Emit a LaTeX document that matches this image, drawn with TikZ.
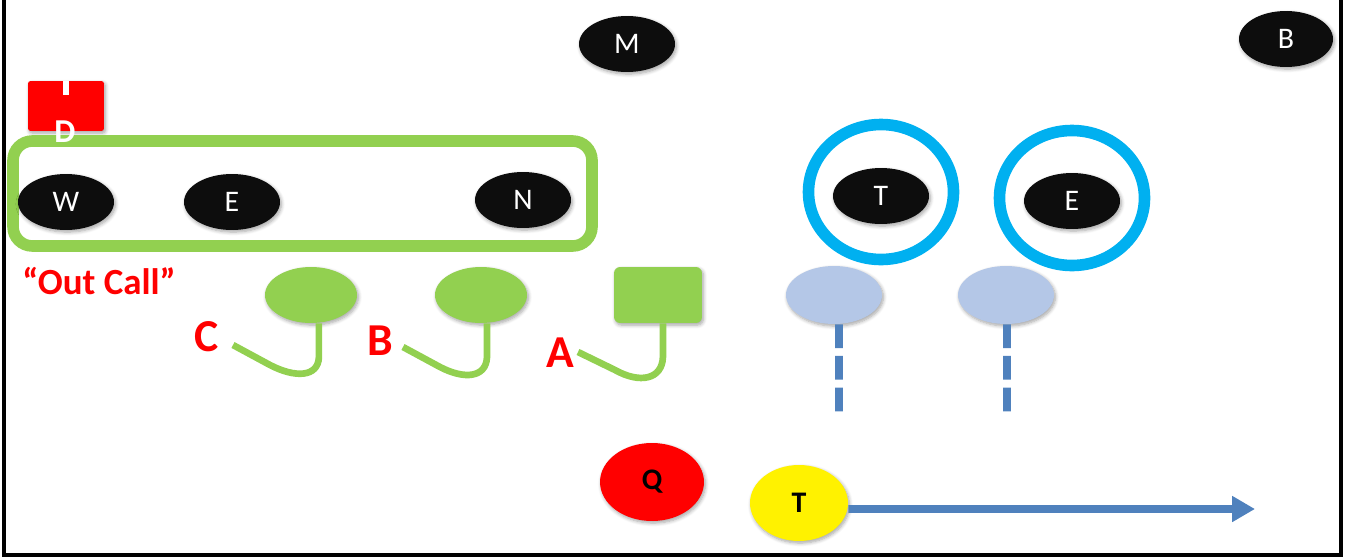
\documentclass[tikz,border=0pt]{standalone}
\usepackage{fontspec}
\setmainfont{Carlito}
\usetikzlibrary{shapes.geometric,arrows.meta,shadows.blur}

\definecolor{padgreen}{HTML}{92D050}
\definecolor{ringblue}{HTML}{00B0F0}
\definecolor{paleblue}{HTML}{B4C7E7}
\definecolor{routeblue}{HTML}{4F81BD}
\definecolor{nearblack}{HTML}{0D0D0D}

\tikzset{
  soft/.style={blur shadow={shadow blur steps=6, shadow xshift=0.8pt, shadow yshift=-1.2pt, shadow opacity=35, shadow blur radius=2pt}},
  player/.style={ellipse, fill=nearblack, text=white, minimum width=1.92cm, minimum height=1.12cm, inner sep=0pt, font=\fontsize{17}{17}\selectfont, soft},
  ring/.style={draw=ringblue, line width=6.6pt},
  stance/.style={ellipse, fill=padgreen, minimum width=1.84cm, minimum height=1.12cm, inner sep=0pt, soft},
  stancebox/.style={rectangle, rounded corners=3.5pt, fill=padgreen, minimum width=1.76cm, minimum height=1.12cm, inner sep=0pt, soft},
  tail/.style={draw=padgreen, line width=3.8pt},
  gaplabel/.style={text=red, font=\bfseries\fontsize{26}{26}\selectfont, inner sep=0pt},
  rusher/.style={ellipse, fill=paleblue, minimum width=1.92cm, minimum height=1.16cm, inner sep=0pt, soft},
  lane/.style={draw=routeblue, line width=4.4pt, dash pattern=on 13.5pt off 4.5pt},
  frameline/.style={line width=2.2pt, draw=black}
}

\begin{document}
\begin{tikzpicture}[x=0.02cm, y=-0.02cm]
\useasboundingbox (0,0) rectangle (1349,558);

% open-top frame
\draw[frameline] (4,0) -- (4,555) -- (1341,555) -- (1341,0);

% deep players
\node[player] (m) at (627,44) {M};
\node[player, minimum width=1.88cm] (b) at (1286,39) {B};

% red marker
\node[rectangle, rounded corners=1.5pt, fill=red, minimum width=1.52cm, minimum height=1cm, inner sep=0pt, soft] (dmark) at (66,106) {};
\fill[white] (63,81) rectangle (69,95);

% grouped front
\draw[draw=padgreen, line width=6.6pt, rounded corners=11pt] (13,141) rectangle (592,246);
\node[player] (w) at (66,202) {W};
\node[player] (e1) at (232,202) {E};
\node[player] (n) at (523,200) {N};

% marker label, drawn over the box edge
\node[text=white, font=\bfseries\fontsize{19}{19}\selectfont, inner sep=0pt] (dlab) at (65,132) {D};

% circled players
\node[player] (t1) at (881,196) {T};
\node[player] (e2) at (1072,201) {E};
\draw[ring] (881,192) ellipse [x radius=72.5, y radius=67.5];
\draw[ring] (1072,198) ellipse [x radius=72.5, y radius=67.5];

% call label
\node[text=red, font=\bfseries\fontsize{21}{21}\selectfont, inner sep=0pt] (call) at (99,281) {“Out Call”};

% line stances with tails
\node[stance] (sc) at (311,295) {};
\node[stance] (sb) at (481,295) {};
\node[stancebox] (sa) at (658,295) {};

\coordinate (tc) at (233,345);
\coordinate (tb) at (403,347);
\coordinate (ta) at (578,352);

\draw[tail] ([xshift=4.5pt]sc.south) -- ++(0,34) .. controls +(-1,20) and (295,378) .. (270,365) -- (tc);
\draw[tail] ([xshift=3.4pt]sb.south) -- ++(0,34) .. controls +(-1,20) and (465,380) .. (440,367) -- (tb);
\draw[tail] ([xshift=2.8pt]sa.south) -- ++(0,34) .. controls +(-1,22) and (640,384) .. (615,370) -- (ta);

\node[gaplabel] (lc) at (207,337) {C};
\node[gaplabel] (lb) at (380,341) {B};
\node[gaplabel] (la) at (560,353) {A};

% pale rushers with dashed lanes
\node[rusher] (r1) at (834,295) {};
\node[rusher] (r2) at (1006,295) {};
\coordinate (d1) at (839,412);
\coordinate (d2) at (1007,412);
\draw[lane] ([xshift=2.8pt]r1.south) -- (d1);
\draw[lane] ([xshift=0.6pt]r2.south) -- (d2);

% backfield
\node[ellipse, fill=red, minimum width=2.08cm, minimum height=1.56cm, inner sep=0pt, font=\bfseries\fontsize{17}{17}\selectfont, soft] (q) at (652,482) {Q};
\node[ellipse, fill=yellow, minimum width=1.96cm, minimum height=1.52cm, inner sep=0pt, font=\bfseries\fontsize{17}{17}\selectfont, soft] (ty) at (799,503) {T};
\coordinate (runend) at (1255,509);
\draw[draw=routeblue, line width=4.3pt, -{Triangle[length=13pt, width=14pt]}] ([yshift=-3.4pt]ty.east) -- (runend);

\end{tikzpicture}
\end{document}
